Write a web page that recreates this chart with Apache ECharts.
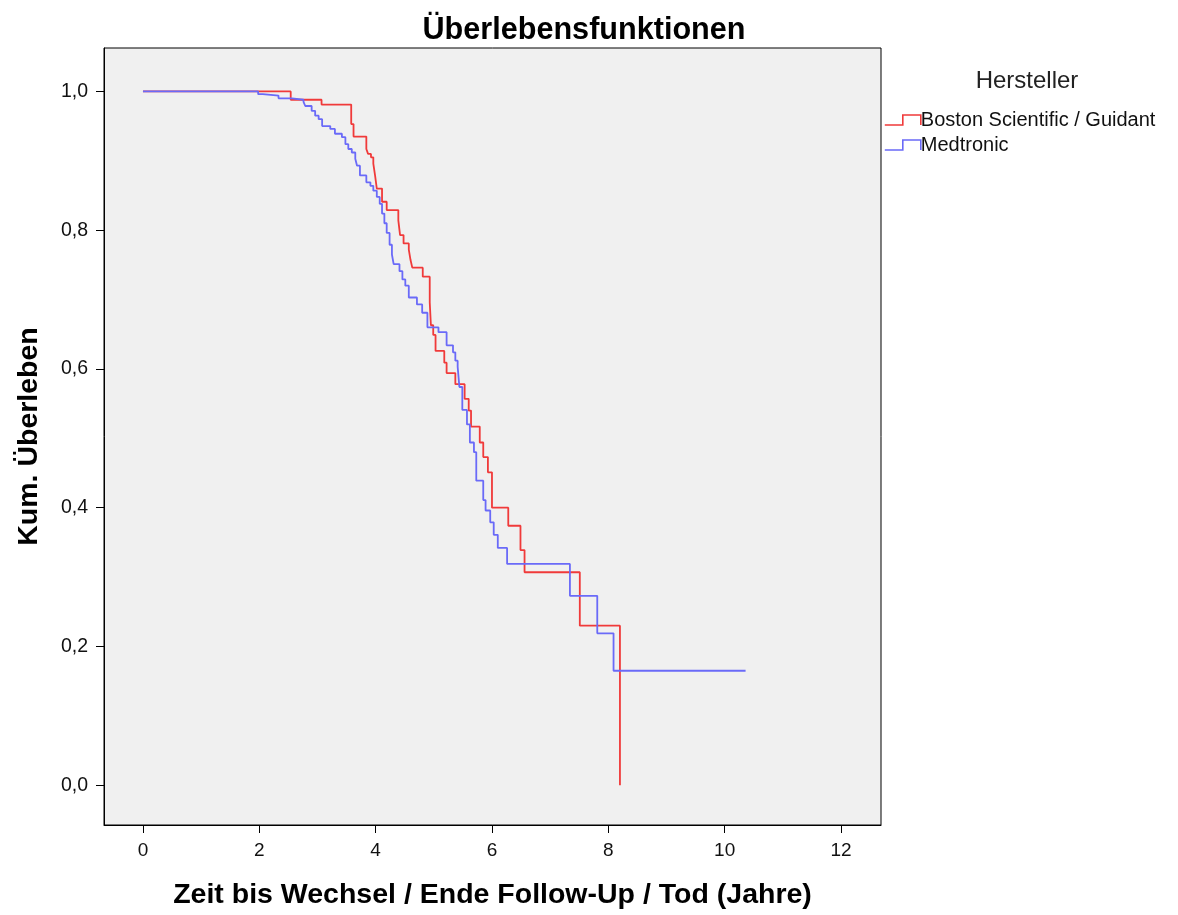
<!DOCTYPE html>
<html>
<head>
<meta charset="utf-8">
<script src="https://cdn.jsdelivr.net/npm/echarts@6/dist/echarts.min.js"></script>
<style>html,body{margin:0;padding:0;background:#fff}#c{width:1178px;height:915px}</style>
</head>
<body>
<div id="c"></div>
<script>
const seriesNames = ['Boston Scientific / Guidant', 'Medtronic'];
const xTicks = [0, 2, 4, 6, 8, 10, 12];
const yTicks = [0, 0.2, 0.4, 0.6, 0.8, 1.0];

const bostonTime = [0, 2.54, 3.07, 3.58, 3.62, 3.84, 3.87, 3.92, 3.96, 3.99, 4.02, 4.11, 4.19, 4.39, 4.42, 4.48, 4.57, 4.60, 4.63, 4.81, 4.93, 4.95, 4.99, 5.03, 5.18, 5.22, 5.37, 5.53, 5.60, 5.64, 5.79, 5.85, 5.93, 6.00, 6.28, 6.49, 6.56, 7.51, 8.20];
const bostonSurv = [1.0, 0.988, 0.981, 0.953, 0.935, 0.917, 0.91, 0.905, 0.896, 0.879, 0.86, 0.841, 0.829, 0.814, 0.793, 0.781, 0.772, 0.757, 0.746, 0.733, 0.696, 0.663, 0.649, 0.626, 0.609, 0.594, 0.578, 0.557, 0.54, 0.517, 0.494, 0.473, 0.451, 0.40, 0.374, 0.339, 0.307, 0.23, 0.0];

const medtronicTime = [0, 1.98, 2.06, 2.33, 2.56, 2.76, 2.79, 2.90, 2.96, 3.02, 3.08, 3.22, 3.30, 3.42, 3.48, 3.53, 3.59, 3.65, 3.68, 3.73, 3.84, 3.91, 3.96, 4.02, 4.07, 4.11, 4.15, 4.19, 4.24, 4.28, 4.31, 4.41, 4.46, 4.51, 4.57, 4.71, 4.80, 4.89, 5.08, 5.22, 5.33, 5.37, 5.41, 5.44, 5.49, 5.57, 5.62, 5.69, 5.73, 5.85, 5.89, 5.97, 6.03, 6.10, 6.26, 7.34, 7.81, 8.09, 10.36];
const medtronicSurv = [1.0, 0.996, 0.994, 0.99, 0.988, 0.985, 0.979, 0.972, 0.965, 0.96, 0.95, 0.946, 0.939, 0.934, 0.924, 0.917, 0.912, 0.903, 0.893, 0.879, 0.869, 0.864, 0.857, 0.848, 0.838, 0.824, 0.81, 0.796, 0.779, 0.765, 0.751, 0.741, 0.729, 0.72, 0.703, 0.693, 0.681, 0.66, 0.653, 0.634, 0.624, 0.612, 0.603, 0.574, 0.541, 0.52, 0.494, 0.48, 0.439, 0.411, 0.396, 0.379, 0.361, 0.342, 0.319, 0.273, 0.219, 0.165, 0.165];

const RED = '#f03a3a', BLUE = '#6a6af8';
const FONT = 'Liberation Sans, Arial, sans-serif';
const pair = (t, s) => t.map((v, i) => [v, s[i]]);
const stepIcon = 'path://M0,10 L18,10 L18,0 L36,0 L36,10';

const chart = echarts.init(document.getElementById('c'), null, {renderer: 'canvas'});
chart.setOption({
  animation: false,
  backgroundColor: '#ffffff',
  title: [
    {text: 'Überlebensfunktionen', left: 579, top: 10, textAlign: 'center',
     textStyle: {fontFamily: FONT, fontWeight: 'bold', fontSize: 30.6, color: '#000'}},
    {text: 'Hersteller', left: 1022, top: 64, textAlign: 'center',
     textStyle: {fontFamily: FONT, fontWeight: 'normal', fontSize: 24, color: '#222'}}
  ],
  legend: {
    orient: 'vertical', left: 879, top: 105, itemWidth: 36, itemHeight: 10, itemGap: 5,
    icon: stepIcon,
    textStyle: {fontFamily: FONT, fontSize: 20, color: '#111', padding: [0, 0, 0, -5]},
    data: [
      {name: seriesNames[0], itemStyle: {color: 'transparent', borderColor: RED, borderWidth: 1.6}},
      {name: seriesNames[1], itemStyle: {color: 'transparent', borderColor: BLUE, borderWidth: 1.6}}
    ]
  },
  grid: {left: 104, right: 297, top: 48, bottom: 85, show: true,
         backgroundColor: '#f0f0f0', borderColor: '#000', borderWidth: 1},
  xAxis: {
    type: 'value', min: -0.67, max: 12.688,
    name: 'Zeit bis Wechsel / Ende Follow-Up / Tod (Jahre)', nameLocation: 'middle', nameGap: 56,
    nameTextStyle: {fontFamily: FONT, fontWeight: 'bold', fontSize: 28.5, color: '#000'},
    axisLine: {show: true, onZero: false, lineStyle: {color: '#000', width: 1}},
    axisTick: {show: true, length: 8, customValues: xTicks, lineStyle: {color: '#000'}},
    axisLabel: {customValues: xTicks, margin: 16, fontFamily: FONT, fontSize: 19, color: '#111',
                formatter: v => String(v)},
    splitLine: {show: false}
  },
  yAxis: {
    type: 'value', min: -0.0573, max: 1.0626,
    name: 'Kum. Überleben', nameLocation: 'middle', nameGap: 60, nameRotate: 90,
    nameTextStyle: {fontFamily: FONT, fontWeight: 'bold', fontSize: 28.5, color: '#000'},
    axisLine: {show: true, onZero: false, lineStyle: {color: '#000', width: 1}},
    axisTick: {show: true, length: 8, customValues: yTicks, lineStyle: {color: '#000'}},
    axisLabel: {customValues: yTicks, margin: 16, fontFamily: FONT, fontSize: 19.5, color: '#111',
                formatter: v => v.toFixed(1).replace('.', ',')},
    splitLine: {show: false}
  },
  series: [
    {name: seriesNames[0], type: 'line', step: 'end', showSymbol: false, symbol: 'none',
     data: pair(bostonTime, bostonSurv), lineStyle: {color: RED, width: 1.8}, itemStyle: {color: RED}, z: 2},
    {name: seriesNames[1], type: 'line', step: 'end', showSymbol: false, symbol: 'none',
     data: pair(medtronicTime, medtronicSurv), lineStyle: {color: BLUE, width: 1.8}, itemStyle: {color: BLUE}, z: 3}
  ]
});
</script>
</body>
</html>
